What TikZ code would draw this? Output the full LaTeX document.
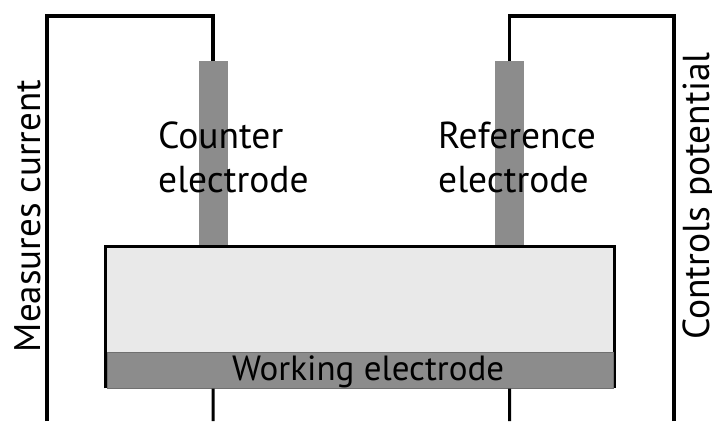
\documentclass[tikz,border=0pt]{standalone}
\usepackage{fontspec}
\setmainfont{PT Sans}
\definecolor{elgray}{RGB}{140,140,140}
\definecolor{cellfill}{RGB}{233,233,233}
\tikzset{
  wire/.style={line width=3.5pt, black},
  electrodebox/.style={fill=elgray, draw=none, inner sep=0pt, anchor=north west},
  lbl/.style={inner sep=0pt, font=\fontsize{37.5}{44}\selectfont, align=left},
}
\begin{document}
\begin{tikzpicture}[x=1pt,y=-1pt]
\useasboundingbox (0,0) rectangle (712,421);
% electrodes
\node (ce) [electrodebox, minimum width=29pt, minimum height=186pt] at (198.5,61) {};
\node (re) [electrodebox, minimum width=29pt, minimum height=186pt] at (495,61) {};
% cell
\node (cell) [fill=cellfill, inner sep=0pt, minimum width=509pt, minimum height=141.5pt, anchor=north west] at (105.5,246.5) {};
\draw[line width=3pt] (cell.south west) -- (cell.north west) -- (cell.north east) -- (cell.south east);
\node (we) [fill=elgray, draw=elgray!80!black, line width=0.6pt, inner sep=0pt, minimum width=506pt, minimum height=36pt, anchor=north west] at (107,352) {};
\node[lbl, font=\fontsize{35}{40}\selectfont, anchor=base west] (welbl) at (232,380) {Working electrode};
% labels
\node[lbl, anchor=base west] (celbl) at (158,192) {Counter\\electrode};
\node[lbl, anchor=base west] (relbl) at (438,192) {Reference\\electrode};
% wires
\coordinate (lt) at (47,16);
\coordinate (lb) at (47,421);
\coordinate (rt) at (674,16);
\coordinate (rb) at (674,421);
\coordinate (cb) at (213,421);
\coordinate (rfb) at (509.5,421);
\draw[wire] (lb) -- (lt) -| (ce.north);
\draw[wire] (rb) -- (rt) -| (re.north);
\draw[wire, line width=3pt] (we.south -| ce.north) -- (cb);
\draw[wire, line width=3pt] (we.south -| re.north) -- (rfb);
% side labels
\node[lbl, font=\fontsize{37}{44}\selectfont, rotate=90, anchor=base] (ml) at (40,216) {Measures current};
\node[lbl, rotate=90, anchor=base] (cl) at (709,196) {Controls potential};
\end{tikzpicture}
\end{document}
